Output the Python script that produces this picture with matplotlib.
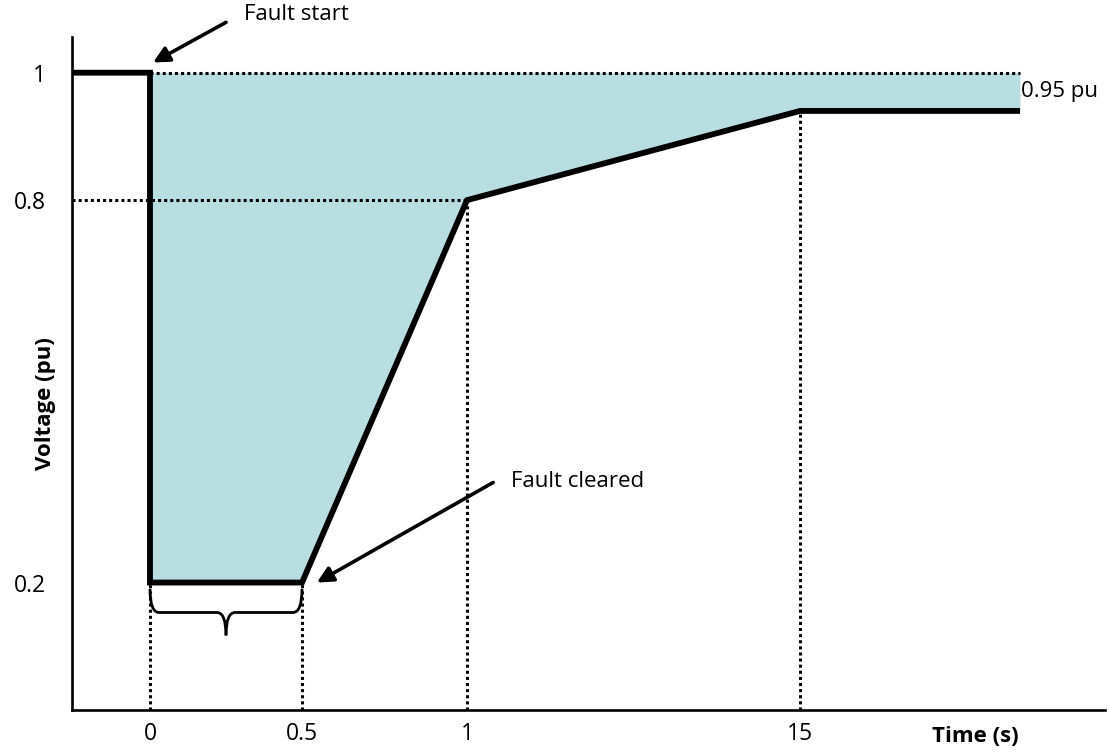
import numpy as np
import matplotlib
matplotlib.use("Agg")
import matplotlib.pyplot as plt
from matplotlib.path import Path
from matplotlib.patches import PathPatch

# ---- data ----
curve_t = [-0.5, 0.0, 0.0, 0.5, 1.0, 15.0, 25.0]
curve_v = [1.0, 1.0, 0.2, 0.2, 0.8, 0.94, 0.94]
x_ticks = [0, 0.5, 1, 15]
x_tick_labels = ["0", "0.5", "1", "15"]
y_ticks = [0.2, 0.8, 1.0]
y_tick_labels = ["0.2", "0.8", "1"]
nominal_v = 1.0
recovery_v = 0.8
fault_clear_t = 0.5

# ---- non-linear (piecewise) time axis ----
knot_t = np.array([-0.5, 0.0, 0.5, 1.0, 15.0, 25.0, 30.0])
knot_p = np.array([72, 150, 302, 467, 800, 1020, 1105], dtype=float)

def fwd(t):
    return np.interp(t, knot_t, knot_p)

def inv(p):
    return np.interp(p, knot_p, knot_t)

plt.rcParams['font.family'] = ['Open Sans', 'DejaVu Sans']
FS = 16

fig = plt.figure(figsize=(11.08, 7.56), dpi=100)
ax = fig.add_axes([72/1108, 46/756, 1033/1108, 673/756])
ax.set_xscale('function', functions=(fwd, inv))
ax.set_xlim(-0.5, 30)
ax.set_ylim(0, 1.056)

fill_color = '#b8dee2'
ct = np.array(curve_t); cv = np.array(curve_v)
ax.fill_between(ct[1:], cv[1:], nominal_v, color=fill_color, lw=0, zorder=1)

dot = dict(color='black', lw=2.2, dashes=(1.0, 1.0), zorder=2)
ax.plot([0, curve_t[-1]], [nominal_v, nominal_v], **dot)
ax.plot([-0.5, 1], [recovery_v, recovery_v], **dot)
for t, v in zip(curve_t[2:6], curve_v[2:6]):
    ax.plot([t, t], [0, v], **dot)

ax.plot(curve_t, curve_v, color='black', lw=4.2, solid_joinstyle='miter',
        solid_capstyle='butt', zorder=4)

# spines / ticks
for s in ['top', 'right']:
    ax.spines[s].set_visible(False)
for s in ['left', 'bottom']:
    ax.spines[s].set_linewidth(1.9)
ax.set_xticks(x_ticks)
ax.set_xticklabels(x_tick_labels)
ax.set_yticks(y_ticks)
ax.set_yticklabels(y_tick_labels)
ax.tick_params(axis='both', length=0, labelsize=16.5)
ax.tick_params(axis='x', pad=9)
ax.tick_params(axis='y', pad=18.5)

# brace under fault duration
y_top, y_mid, y_tip = 0.190, 0.153, 0.117
x0, x1 = 0.0, fault_clear_t
xm = (x0 + x1) / 2
d = 0.03
left = Path([(x0, y_top), (x0, y_mid), (x0 + d, y_mid), (xm - d, y_mid), (xm, y_mid), (xm, y_tip)],
            [Path.MOVETO, Path.CURVE3, Path.CURVE3, Path.LINETO, Path.CURVE3, Path.CURVE3])
right = Path([(x1, y_top), (x1, y_mid), (x1 - d, y_mid), (xm + d, y_mid), (xm, y_mid), (xm, y_tip)],
             [Path.MOVETO, Path.CURVE3, Path.CURVE3, Path.LINETO, Path.CURVE3, Path.CURVE3])
for p in (left, right):
    ax.add_patch(PathPatch(p, fill=False, lw=2.0, color='black', zorder=5))

# annotations
arrow = dict(arrowstyle='-|>', color='black', lw=2.6, mutation_scale=24,
             shrinkA=0, shrinkB=0)
ax.annotate('', xy=(0.01, 1.016), xytext=(0.25, 1.079),
            arrowprops=arrow, annotation_clip=False)
ax.text(0.31, 1.092, 'Fault start', fontsize=FS, ha='left', va='center', clip_on=False)
ax.annotate('', xy=(0.545, 0.2), xytext=(2.1, 0.357),
            arrowprops=arrow, annotation_clip=False)
ax.text(2.85, 0.358, 'Fault cleared', fontsize=FS, ha='left', va='center')
ax.text(25.05, 0.97, '0.95 pu', fontsize=FS, ha='left', va='center')

fig.text(975/1108, 1 - 736/756, 'Time (s)', fontsize=FS, fontweight='bold',
         ha='center', va='center')
fig.text(45/1108, 1 - 404/756, 'Voltage (pu)', fontsize=FS, fontweight='bold',
         ha='center', va='center', rotation=90)

fig.savefig('out.png', dpi=100)
